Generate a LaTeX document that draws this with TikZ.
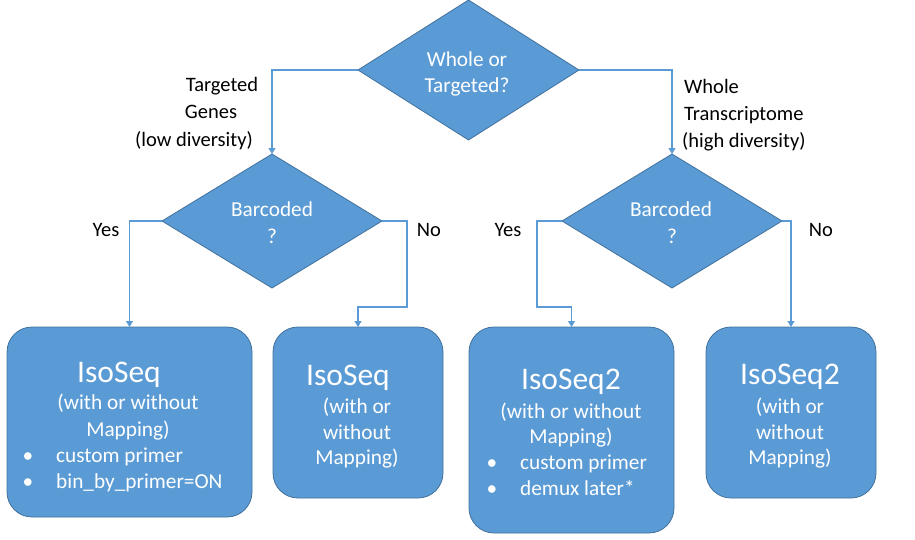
\documentclass[tikz,border=0pt]{standalone}
\usepackage{fontspec}
\setmainfont{Carlito}
\usetikzlibrary{shapes.geometric,arrows.meta}
\definecolor{boxblue}{HTML}{5B9BD5}
\definecolor{edgeblue}{HTML}{41719C}
\definecolor{linkblue}{HTML}{5B9BD5}
\begin{document}
\begin{tikzpicture}[x=1pt,y=-1pt,
  dia/.style={diamond, draw=edgeblue, line width=0.8pt, fill=boxblue, inner sep=0pt, outer sep=0pt},
  box/.style={rectangle, rounded corners=25pt, draw=edgeblue, line width=0.8pt, fill=boxblue, inner sep=0pt, outer sep=0pt},
  conn/.style={draw=linkblue, line width=1.15pt, -{Triangle[width=7pt,length=6pt]}},
  wt/.style={text=white, font=\fontsize{21.3}{24}\selectfont, anchor=base, inner sep=0pt},
  wtl/.style={wt, anchor=base west},
  big/.style={wt, font=\fontsize{31.5}{36}\selectfont},
  lbl/.style={text=black, font=\fontsize{20.5}{24}\selectfont, anchor=base, inner sep=0pt},
  lbll/.style={lbl, anchor=base west}]
\useasboundingbox (0,0) rectangle (915,539);

% decision diamonds
\node[dia, minimum width=221pt, minimum height=140pt] (d0) at (468.5,70) {};
\node[dia, minimum width=220pt, minimum height=134pt] (d1) at (272,221) {};
\node[dia, minimum width=220pt, minimum height=134pt] (d2) at (672,221) {};

% result boxes
\node[box, minimum width=245pt, minimum height=190pt] (b1) at (129.5,422) {};
\node[box, minimum width=170pt, minimum height=171pt] (b2) at (358,412.5) {};
\node[box, minimum width=205pt, minimum height=206pt] (b3) at (571.5,430) {};
\node[box, minimum width=170pt, minimum height=171pt] (b4) at (791,412.5) {};

% connectors
\draw[conn] (d0.west) -| (d1.north);
\draw[conn] (d0.east) -| (d2.north);
\draw[conn] (d1.west) -| (b1.north);
\draw[conn] (d1.east) -| (407,307) -| (b2.north);
\draw[conn] (d2.west) -| (537,307) -| (b3.north);
\draw[conn] (d2.east) -| (b4.north);

% diamond texts
\node[wt] (t0a) at (467,66.5) {Whole or};
\node[wt] (t0b) at (467,92.5) {Targeted?};
\node[wt] (t1a) at (272,216.5) {Barcoded};
\node[wt] (t1b) at (272,243) {?};
\node[wt] (t2a) at (671,216.5) {Barcoded};
\node[wt] (t2b) at (672,243) {?};

% branch labels
\node[lbl] (l1) at (222,91) {Targeted};
\node[lbl] (l2) at (211,118) {Genes};
\node[lbl] (l3) at (194,146.5) {(low diversity)};
\node[lbll] (r1) at (684,93) {Whole};
\node[lbll] (r2) at (684,120) {Transcriptome};
\node[lbll] (r3) at (682,147) {(high diversity)};
\node[lbl] (y1) at (106,236.5) {Yes};
\node[lbl] (n1) at (429,236.5) {No};
\node[lbl] (y2) at (508,236.5) {Yes};
\node[lbl] (n2) at (821,236.5) {No};

% box 1
\node[big] (b1t) at (119,382) {IsoSeq};
\node[wt] (b1a) at (128,409.5) {(with or without};
\node[wt] (b1b) at (128,436.5) {Mapping)};
\node[wt] (b1c) at (28,462.5) {•};
\node[wtl] (b1d) at (56,462.5) {custom primer};
\node[wt] (b1e) at (28,488.5) {•};
\node[wtl] (b1f) at (56,488.5) {bin\_by\_primer=ON};

% box 2
\node[big] (b2t) at (348,385) {IsoSeq};
\node[wt] (b2a) at (357,413.5) {(with or};
\node[wt] (b2b) at (357,439.5) {without};
\node[wt] (b2c) at (357,464.5) {Mapping)};

% box 3
\node[big] (b3t) at (571,389) {IsoSeq2};
\node[wt] (b3a) at (571,418.5) {(with or without};
\node[wt] (b3b) at (571,443.5) {Mapping)};
\node[wt] (b3c) at (492,469.5) {•};
\node[wtl] (b3d) at (520,469.5) {custom primer};
\node[wt] (b3e) at (492,495.5) {•};
\node[wtl] (b3f) at (520,495.5) {demux later*};

% box 4
\node[big] (b4t) at (790,384) {IsoSeq2};
\node[wt] (b4a) at (790,413.5) {(with or};
\node[wt] (b4b) at (790,439.5) {without};
\node[wt] (b4c) at (790,464.5) {Mapping)};
\end{tikzpicture}
\end{document}
